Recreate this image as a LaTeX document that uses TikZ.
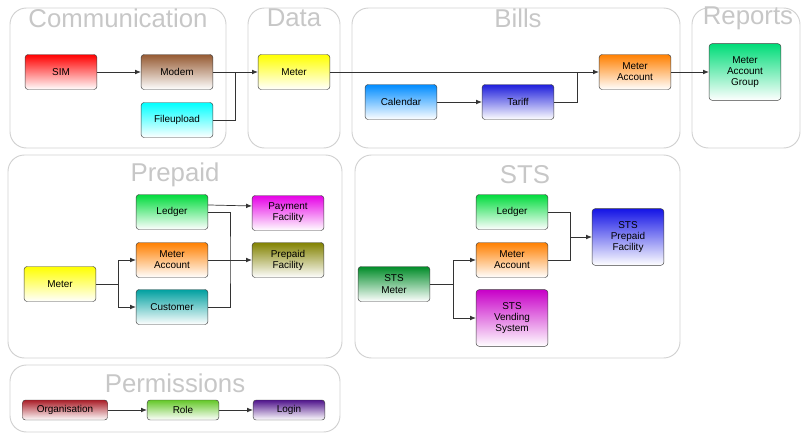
\documentclass[tikz,border=0pt]{standalone}
\usepackage{fontspec}
\setmainfont{Liberation Sans}
\usetikzlibrary{arrows.meta}

\begin{document}
\begin{tikzpicture}[x=0.03cm,y=-0.03cm,
  grp/.style={draw=black!18,rounded corners=14pt,line width=0.8pt},
  title/.style={text=black!22,font=\fontsize{22}{24}\selectfont},
  box/.style={draw=black!75,rounded corners=2.5pt,minimum width=2.15cm,minimum height=1.05cm,
    align=center,inner sep=1pt,font=\fontsize{8.5}{9.5}\selectfont,bottom color=white},
  tall/.style={box,minimum height=1.7cm},
  flat/.style={box,minimum height=0.6cm},
  arr/.style={-{Latex[length=5pt,width=4pt]},black!80,line width=0.6pt},
  ln/.style={black!80,line width=0.6pt}]
\useasboundingbox (0,0) rectangle (806,436);

\draw[grp] (10,8) rectangle (226,148);
\draw[grp] (248,8) rectangle (340,148);
\draw[grp] (352,8) rectangle (680,148);
\draw[grp] (692,8) rectangle (800,148);
\draw[grp] (8,155) rectangle (342,358);
\draw[grp] (355,155) rectangle (680,358);
\draw[grp] (10,365) rectangle (340,432);

\node [title] (tcomm) at (118,18) {Communication};
\node [title] (tdata) at (294,18) {Data};
\node [title] (tbills) at (518,18) {Bills};
\node [title] (treports) at (748,18) {Reports};
\node [title] (tprepaid) at (175,175) {Prepaid};
\node [title] (tsts) at (525,175) {STS};
\node [title] (tperm) at (175,383) {Permissions};

\node [box,top color=red] (sim) at (61,72) {SIM};
\node [box,top color={rgb,255:red,150;green,90;blue,50}] (modem) at (177,72) {Modem};
\node [box,top color=cyan] (fileupload) at (177,120) {Fileupload};
\node [box,top color=yellow] (meter) at (294,72) {Meter};
\node [box,top color={rgb,255:red,0;green,140;blue,255}] (calendar) at (401,102) {Calendar};
\node [box,top color={rgb,255:red,30;green,30;blue,220}] (tariff) at (518,102) {Tariff};
\node [box,top color=orange] (meteraccount) at (635,72) {Meter\\Account};
\node [tall,top color={rgb,255:red,0;green,220;blue,120}] (accountgroup) at (745,72) {Meter\\Account\\Group};

\node [box,top color=yellow] (pmeter) at (60,284) {Meter};
\node [box,top color={rgb,255:red,0;green,220;blue,60}] (pledger) at (172,212) {Ledger};
\node [box,top color=orange] (pmeteraccount) at (172,260) {Meter\\Account};
\node [box,top color={rgb,255:red,0;green,160;blue,160}] (customer) at (172,307) {Customer};
\node [box,top color={rgb,255:red,230;green,0;blue,230}] (payment) at (288,213) {Payment\\Facility};
\node [box,top color={rgb,255:red,130;green,130;blue,0}] (prepaidfacility) at (288,260) {Prepaid\\Facility};

\node [box,top color={rgb,255:red,0;green,140;blue,40}] (stsmeter) at (394,284) {STS\\Meter};
\node [box,top color={rgb,255:red,0;green,220;blue,60}] (sledger) at (512,212) {Ledger};
\node [box,top color=orange] (smeteraccount) at (512,260) {Meter\\Account};
\node [tall,top color={rgb,255:red,200;green,0;blue,200}] (vending) at (512,318) {STS\\Vending\\System};
\node [tall,top color={rgb,255:red,20;green,20;blue,230}] (stsprepaid) at (628,237) {STS\\Prepaid\\Facility};

\node [flat,minimum width=2.55cm,top color={rgb,255:red,170;green,30;blue,40}] (organisation) at (65,410) {Organisation};
\node [flat,top color={rgb,255:red,100;green,200;blue,40}] (role) at (183,410) {Role};
\node [flat,top color={rgb,255:red,80;green,20;blue,140}] (login) at (289,410) {Login};

\coordinate (cj) at (235,72);
\coordinate (bj) at (577,72);
\coordinate (pj) at (118,284);
\coordinate (pk) at (230,260);
\coordinate (sj) at (453,284);
\coordinate (sk) at (570,237);

\draw[arr] (sim) -- (modem);
\draw[arr] (modem) -- (meter);
\draw[ln] (fileupload) -| (cj);
\draw[arr] (meter) -- (meteraccount);
\draw[arr] (calendar) -- (tariff);
\draw[ln] (tariff) -| (bj);
\draw[arr] (meteraccount) -- (accountgroup);

\draw[ln] (pmeter) -- (pj);
\draw[arr] (pj) |- (pmeteraccount);
\draw[arr] (pj) |- (customer);
\draw[arr] ([yshift=6pt]pledger.east) -- ([yshift=6pt]payment.west);
\draw[ln] (customer) -| (pk) |- (pledger);
\draw[arr] (pmeteraccount) -- (prepaidfacility);

\draw[ln] (stsmeter) -- (sj);
\draw[arr] (sj) |- (smeteraccount);
\draw[arr] (sj) |- (vending);
\draw[ln] (sledger) -| (sk);
\draw[ln] (smeteraccount) -| (sk);
\draw[arr] (sk) -- (stsprepaid);

\draw[arr] (organisation) -- (role);
\draw[arr] (role) -- (login);

\end{tikzpicture}
\end{document}
